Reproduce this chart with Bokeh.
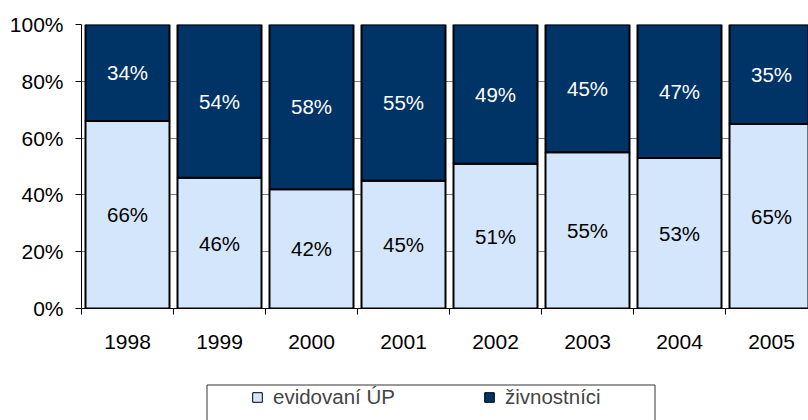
from bokeh.plotting import figure
from bokeh.layouts import column
from bokeh.models import (ColumnDataSource, Range1d, FixedTicker, PrintfTickFormatter,
                          Legend, LegendItem, BoxAnnotation)
from bokeh.core.properties import value
from bokeh.embed import file_html
from bokeh.resources import INLINE

years = ["1998", "1999", "2000", "2001", "2002", "2003", "2004", "2005"]
evidovani = [66, 46, 42, 45, 51, 55, 53, 65]
zivnostnici = [34, 54, 58, 55, 49, 45, 47, 35]
series_names = ["evidovaní ÚP", "živnostníci"]
colors = ["#D4E6FB", "#003366"]
y_ticks = [0, 20, 40, 60, 80, 100]

FONT = "Liberation Sans"
FS_AX = "21px"
FS = "20.5px"

xs = [i + 1 for i in range(len(years))]
tops = [a + b for a, b in zip(evidovani, zivnostnici)]
src = ColumnDataSource(dict(
    x=xs,
    ev=evidovani,
    top=tops,
    ev_mid=[a / 2 for a in evidovani],
    zi_mid=[a + b / 2 for a, b in zip(evidovani, zivnostnici)],
    ev_lbl=[f"{v}%" for v in evidovani],
    zi_lbl=[f"{v}%" for v in zivnostnici],
))

W = 808
LEFT = 81
cat_w = 92
frame_w = W - LEFT
p = figure(width=W, height=376, output_backend="svg", toolbar_location=None,
           x_range=Range1d(0.5, 0.5 + frame_w / cat_w), y_range=Range1d(0, 100),
           min_border_left=LEFT, min_border_right=0, min_border_top=24, min_border_bottom=68)
p.outline_line_color = None
p.background_fill_color = "white"
p.border_fill_color = "white"

bw = 84 / 92
r1 = p.vbar(x="x", width=bw, bottom=0, top="ev", source=src,
            fill_color=colors[0], line_color="black", line_width=2)
r2 = p.vbar(x="x", width=bw, bottom="ev", top="top", source=src,
            fill_color=colors[1], line_color="black", line_width=2)

p.text(x="x", y="ev_mid", text="ev_lbl", source=src, text_align="center",
       text_baseline="middle", text_font=value(FONT), text_font_size=FS, text_color="black")
p.text(x="x", y="zi_mid", text="zi_lbl", source=src, text_align="center",
       text_baseline="middle", text_font=value(FONT), text_font_size=FS, text_color="white")

p.xgrid.grid_line_color = None
p.ygrid.ticker = FixedTicker(ticks=y_ticks)
p.ygrid.grid_line_color = "#808080"

p.yaxis.ticker = FixedTicker(ticks=y_ticks)
p.yaxis.formatter = PrintfTickFormatter(format="%d%%")
p.yaxis.major_tick_out = 6
p.yaxis.major_tick_in = 0
p.yaxis.minor_tick_out = 0
p.yaxis.minor_tick_in = 0
p.yaxis.major_label_standoff = 12

p.xaxis.ticker = FixedTicker(ticks=xs, minor_ticks=[i + 0.5 for i in range(len(years) + 1)])
p.xaxis.major_label_overrides = {x: y for x, y in zip(xs, years)}
p.xaxis.major_tick_out = 0
p.xaxis.major_tick_in = 0
p.xaxis.minor_tick_out = 6
p.xaxis.minor_tick_in = 0
p.xaxis.major_label_standoff = 20

for ax in (p.xaxis[0], p.yaxis[0]):
    ax.axis_line_color = "black"
    ax.major_tick_line_color = "black"
    ax.minor_tick_line_color = "black"
    ax.major_label_text_font = FONT
    ax.major_label_text_font_size = FS_AX
    ax.major_label_text_color = "black"

# legend strip (frame aligned with the chart frame; x in page pixels)
H2 = 44
p2 = figure(width=W, height=H2, output_backend="svg", toolbar_location=None,
            x_range=Range1d(LEFT, W), y_range=Range1d(0, H2),
            x_axis_type=None, y_axis_type=None,
            min_border_left=LEFT, min_border_right=0,
            min_border_top=0, min_border_bottom=0)
p2.outline_line_color = None
p2.background_fill_color = "white"
p2.border_fill_color = "white"
p2.grid.visible = False
# hidden renderers that only supply the legend swatches
d1 = p2.vbar(x="x", top="ev", width=bw, source=src, visible=False,
             fill_color=colors[0], line_color="black", line_width=1)
d2 = p2.vbar(x="x", top="ev", width=bw, source=src, visible=False,
             fill_color=colors[1], line_color="black", line_width=1)

box = BoxAnnotation(left=206.5, right=654.5, top=H2 - 8.5, bottom=-20,
                    fill_alpha=0, line_color="black", line_alpha=0.8, line_width=1)
p2.add_layout(box)

legend = Legend(items=[LegendItem(label=series_names[0], renderers=[d1]),
                       LegendItem(label=series_names[1], renderers=[d2])],
                orientation="horizontal", location=(251 - LEFT, 11),
                border_line_alpha=0, background_fill_alpha=0, padding=0, margin=0,
                spacing=88, glyph_width=12, glyph_height=12, label_standoff=10,
                label_text_font=FONT, label_text_font_size=FS,
                inactive_fill_alpha=0)
p2.add_layout(legend, "center")

layout = column(p, p2, spacing=0)
open("out.html", "w").write(file_html(layout, INLINE))
